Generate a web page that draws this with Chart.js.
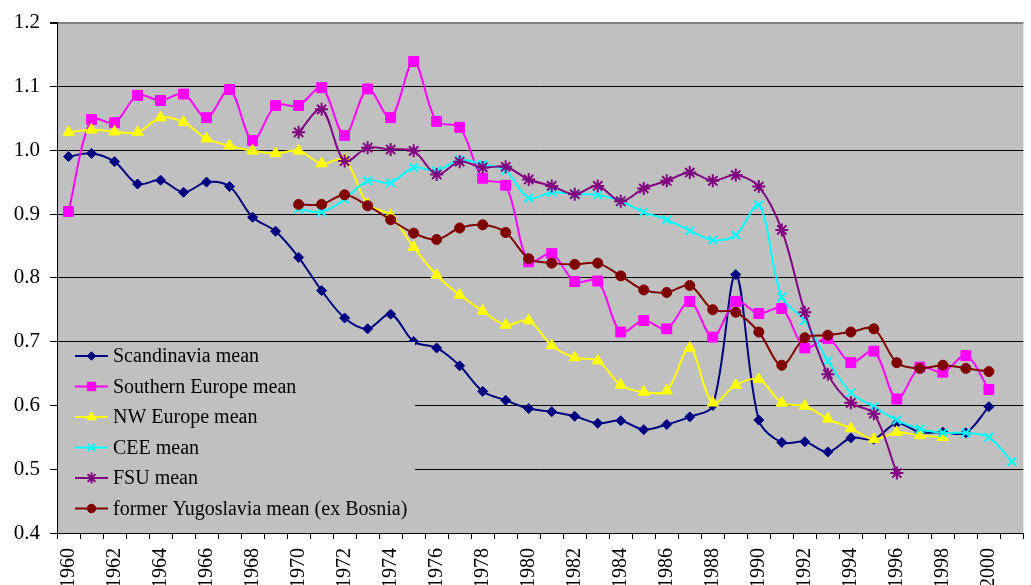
<!DOCTYPE html>
<html>
<head>
<meta charset="utf-8">
<script src="https://cdn.jsdelivr.net/npm/chart.js@4.4.1/dist/chart.umd.min.js"></script>
<style>
  html, body { margin: 0; padding: 0; background: #fff; overflow: hidden; }
  canvas { display: block; }
</style>
</head>
<body>
<canvas id="myChart" width="1045" height="585"></canvas>
<script>
// years 1960..2001
const years = [];
for (let y = 1960; y <= 2001; y++) years.push(String(y));

const scandinavia = [0.990, 0.995, 0.982, 0.947, 0.953, 0.934, 0.950, 0.943, 0.895, 0.873,
  0.832, 0.780, 0.737, 0.720, 0.743, 0.700, 0.690, 0.662, 0.622, 0.608,
  0.595, 0.590, 0.583, 0.572, 0.576, 0.562, 0.570, 0.582, 0.600, 0.805,
  0.577, 0.542, 0.543, 0.527, 0.549, 0.547, 0.572, 0.558, 0.558, 0.557,
  0.598, null];

const southernEurope = [0.904, 1.048, 1.043, 1.086, 1.078, 1.088, 1.051, 1.095, 1.015, 1.070,
  1.070, 1.098, 1.023, 1.096, 1.051, 1.139, 1.045, 1.036, 0.956, 0.945,
  0.825, 0.838, 0.794, 0.795, 0.715, 0.733, 0.720, 0.763, 0.707, 0.763,
  0.744, 0.752, 0.690, 0.705, 0.667, 0.685, 0.610, 0.660, 0.652, 0.678,
  0.625, null];

const nwEurope = [1.028, 1.032, 1.029, 1.028, 1.051, 1.044, 1.018, 1.007, 0.999, 0.995,
  0.999, 0.979, 0.985, 0.916, 0.898, 0.848, 0.804, 0.773, 0.748, 0.726,
  0.733, 0.694, 0.675, 0.670, 0.632, 0.621, 0.623, 0.690, 0.604, 0.632,
  0.641, 0.604, 0.599, 0.579, 0.564, 0.547, 0.558, 0.553, 0.550, null,
  null, null];

const cee = [null, null, null, null, null, null, null, null, null, null,
  0.908, 0.903, 0.923, 0.952, 0.949, 0.973, 0.968, 0.985, 0.978, 0.968,
  0.925, 0.934, 0.931, 0.930, 0.920, 0.903, 0.891, 0.874, 0.859, 0.867,
  0.914, 0.770, 0.733, 0.670, 0.620, 0.598, 0.577, 0.563, 0.557, 0.557,
  0.550, 0.512];

const fsu = [null, null, null, null, null, null, null, null, null, null,
  1.028, 1.064, 0.983, 1.004, 1.001, 0.999, 0.962, 0.982, 0.973, 0.974,
  0.954, 0.944, 0.931, 0.944, 0.920, 0.940, 0.952, 0.965, 0.952, 0.961,
  0.943, 0.875, 0.746, 0.649, 0.604, 0.587, 0.494, null, null, null,
  null, null];

const yugoslavia = [null, null, null, null, null, null, null, null, null, null,
  0.915, 0.915, 0.930, 0.913, 0.891, 0.870, 0.860, 0.878, 0.883, 0.871,
  0.830, 0.823, 0.821, 0.823, 0.803, 0.781, 0.777, 0.788, 0.750, 0.746,
  0.715, 0.663, 0.706, 0.710, 0.715, 0.720, 0.667, 0.658, 0.663, 0.658,
  0.653, null];

const seriesNames = ['Scandinavia mean', 'Southern Europe mean', 'NW Europe mean',
  'CEE mean', 'FSU mean', 'former Yugoslavia mean (ex Bosnia)'];

const fontFam = '"Liberation Serif", "Times New Roman", serif';

function mkSet(i, data, color, style, radius) {
  return {
    label: seriesNames[i],
    data: data,
    borderColor: color,
    backgroundColor: color,
    pointBackgroundColor: color,
    pointBorderColor: color,
    pointStyle: style,
    pointRadius: radius,
    pointBorderWidth: (style === 'crossRot' || style === 'star') ? 2 : 1,
    borderWidth: 2,
    tension: 0.33,
    fill: false,
    order: 6 - i
  };
}

const plotBg = {
  id: 'plotBg',
  beforeDraw(chart) {
    const { ctx, chartArea } = chart;
    ctx.save();
    ctx.fillStyle = '#C0C0C0';
    ctx.fillRect(chartArea.left, chartArea.top, chartArea.right - chartArea.left, chartArea.bottom - chartArea.top);
    ctx.restore();
  }
};

const boxLegend = {
  id: 'boxLegend',
  afterDatasetsDraw(chart) {
    const { ctx, chartArea } = chart;
    const left = chartArea.left + 1;
    const top = chartArea.bottom - 191;
    ctx.save();
    ctx.fillStyle = '#C0C0C0';
    ctx.fillRect(left, top, 415 - left, chartArea.bottom - 1 - top);
    chart.data.datasets.forEach(function (ds, i) {
      const y = top + 14 + i * 30.5;
      ctx.strokeStyle = ds.borderColor;
      ctx.lineWidth = 2;
      ctx.beginPath();
      ctx.moveTo(75, y);
      ctx.lineTo(108, y);
      ctx.stroke();
      ctx.fillStyle = ds.borderColor;
      ctx.strokeStyle = ds.borderColor;
      ctx.lineWidth = ds.pointBorderWidth;
      if (Chart.helpers && Chart.helpers.drawPoint) {
        Chart.helpers.drawPoint(ctx, {
          pointStyle: ds.pointStyle,
          radius: ds.pointRadius * 0.85,
          rotation: 0,
          borderWidth: ds.pointBorderWidth
        }, 91.5, y);
      }
      ctx.fillStyle = '#000';
      ctx.font = '20px ' + fontFam;
      ctx.textBaseline = 'middle';
      ctx.textAlign = 'left';
      ctx.fillText(ds.label, 113, y + 1);
    });
    ctx.restore();
  }
};

window.onload = function () {
  const data = {
    labels: years,
    datasets: [
      mkSet(0, scandinavia, '#000080', 'rectRot', 5),
      mkSet(1, southernEurope, '#FF00FF', 'rect', 7),
      mkSet(2, nwEurope, '#FFFF00', 'triangle', 6.5),
      mkSet(3, cee, '#00FFFF', 'crossRot', 6),
      mkSet(4, fsu, '#800080', 'star', 6.5),
      mkSet(5, yugoslavia, '#800000', 'circle', 5)
    ]
  };

  const config = {
    type: 'line',
    data: data,
    options: {
      responsive: false,
      animation: false,
      devicePixelRatio: 1,
      layout: { padding: { top: 19, right: 4, left: 0, bottom: 0 } },
      plugins: {
        legend: { display: false },
        tooltip: { enabled: false }
      },
      scales: {
        x: {
          type: 'category',
          offset: true,
          afterFit: function (s) { s.height = 52; },
          grid: {
            display: true,
            offset: true,
            drawOnChartArea: false,
            color: '#000',
            tickColor: '#000',
            tickLength: 6
          },
          border: { display: true, color: '#000', width: 1 },
          ticks: {
            autoSkip: false,
            minRotation: 90,
            maxRotation: 90,
            padding: 9,
            color: '#000',
            font: { family: fontFam, size: 20 },
            callback: function (v, i) { return i % 2 === 0 ? years[i] : ''; }
          }
        },
        y: {
          min: 0.4,
          max: 1.2,
          afterFit: function (s) { s.width = 57; },
          grid: {
            color: function (c) { return c.tick && c.tick.value > 1.19 ? '#808080' : '#000'; },
            lineWidth: function (c) { return c.tick && c.tick.value > 1.19 ? 2 : 1; },
            tickColor: '#000',
            tickLength: 7
          },
          border: { display: true, color: '#000', width: 1 },
          ticks: {
            stepSize: 0.1,
            padding: 10,
            color: '#000',
            font: { family: fontFam, size: 21 },
            callback: function (v) { return Number(v).toFixed(1); }
          }
        }
      }
    },
    plugins: [plotBg, boxLegend]
  };

  const myChart = new Chart(document.getElementById('myChart'), config);
};
</script>
</body>
</html>
